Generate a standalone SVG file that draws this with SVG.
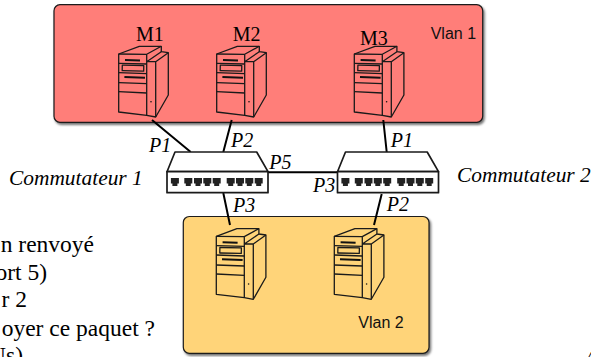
<svg xmlns="http://www.w3.org/2000/svg" width="591" height="357" viewBox="0 0 591 357">
<style>
.t{font-family:"Liberation Serif","Times New Roman",serif;fill:#000}
.c{font-size:21.400px;font-style:italic}
.i{font-size:20px;font-style:italic}
.m{font-size:20px}
.b{font-size:23.500px;text-anchor:end}
.v{font-family:"Liberation Sans",Arial,sans-serif;font-size:16px;fill:#111}
.p{stroke:#1a1a1a;stroke-width:1.3;stroke-linejoin:round;fill:none}
.l{stroke:#000;stroke-width:2;fill:none}
.s{fill:#fff;stroke:#1a1a1a;stroke-width:1.7;stroke-linejoin:round}
.k{fill:#222}
</style>
<defs>
<filter id="sh" x="-5%" y="-5%" width="110%" height="110%"><feDropShadow dx="1.500" dy="2" stdDeviation="1.200" flood-color="#000" flood-opacity=".55"/></filter>
<g id="srv">
<path class="p" d="M0 8L20.600.3H42.600V5.700L49.600 6.700V49L37 71L28 69.300L0 66Z"/>
<path class="p" d="M0 8L28 8.300L42.600 .3M28 8.300V15.700M28 15.700V69.300M37 15.700V71M28 15.700H37M37 15.700L49.600 6.700M28 15.700L42.600 5.700"/>
<path class="p" d="M0 17.300L28 18M0 26.700L28 27.700M0 36.700L28 37.700M0 45.700L28 47"/>
<rect x="3.600" y="19.200" width="21.500" height="5.500" class="p" transform="rotate(1.200 3.600 19.200)"/>
<path d="M6.300 14L21.300 14.500M5.700 31L26.300 31.800" stroke="#111" stroke-width="2"/>
<circle cx="32.300" cy="55.700" r=".8" fill="#111"/>
</g>
<path id="pt" class="k" d="M0 0H8V5.500H6.500V8H1.500V5.500H0Z"/>
<g id="sw">
<path class="s" d="M0 19.700L8 0H89.700L101 19.700Z"/>
<rect x="0" y="19.700" width="101" height="21" class="s"/>
<use href="#pt" x="3.900" y="26"/><use href="#pt" x="17.300" y="26"/><use href="#pt" x="27" y="26"/><use href="#pt" x="36.300" y="26"/><use href="#pt" x="45.700" y="26"/>
<use href="#pt" x="59.700" y="26"/><use href="#pt" x="69" y="26"/><use href="#pt" x="78.300" y="26"/><use href="#pt" x="87.700" y="26"/>
</g>
</defs>

<g id="vlan1">
<rect x="54" y="4.700" width="428.700" height="117.600" rx="6" fill="#ff7e79" stroke="#1a1a1a" stroke-width="1.200" filter="url(#sh)"/>
<text class="v" x="430.700" y="39.300">Vlan 1</text>
</g>
<g id="vlan2">
<rect x="183.300" y="216.500" width="245.700" height="136.800" rx="6" fill="#ffd479" stroke="#1a1a1a" stroke-width="1.200" filter="url(#sh)"/>
<text class="v" x="358.300" y="327.700">Vlan 2</text>
</g>

<g id="connectors">
<path class="l" d="M152 120L190.700 152M231.700 120L223.300 152M383.300 120L386.700 152M267 172.300H337.300M223.300 193L230 225M381.700 194L374 225"/>
</g>

<g id="m1"><use href="#srv" x="118.700" y="46"/><text class="t m" x="136" y="40.700">M1</text></g>
<g id="m2"><use href="#srv" x="216.700" y="46"/><text class="t m" x="232.700" y="40.700">M2</text></g>
<g id="m3"><use href="#srv" x="354.300" y="46"/><text class="t m" x="360" y="45">M3</text></g>
<g id="m4"><use href="#srv" x="216.300" y="228.300"/></g>
<g id="m5"><use href="#srv" x="334.300" y="228.300"/></g>

<g id="sw1"><use href="#sw" x="167" y="152"/><text class="t c" x="9" y="185">Commutateur 1</text></g>
<g id="sw2"><use href="#sw" x="337.500" y="152"/><text class="t c" x="457" y="182">Commutateur 2</text></g>

<g id="ports">
<text class="t i" x="149" y="152">P1</text>
<text class="t i" x="231" y="146.700">P2</text>
<text class="t i" x="269.300" y="169.300">P5</text>
<text class="t i" x="233" y="211.700">P3</text>
<text class="t i" x="390.700" y="146.700">P1</text>
<text class="t i" x="313" y="191.700">P3</text>
<text class="t i" x="386.700" y="210.700">P2</text>
</g>

<g id="text">
<text class="t b" x="94" y="252">n renvoyé</text>
<text class="t b" x="47" y="280">ort 5)</text>
<text class="t b" x="27" y="307">r 2</text>
<text class="t b" x="155" y="335.500">oyer ce paquet ?</text>
<text class="t b" x="23" y="363">Us)</text>
<text class="t" x="584" y="366" font-size="21" font-style="italic">A</text>
</g>
</svg>
